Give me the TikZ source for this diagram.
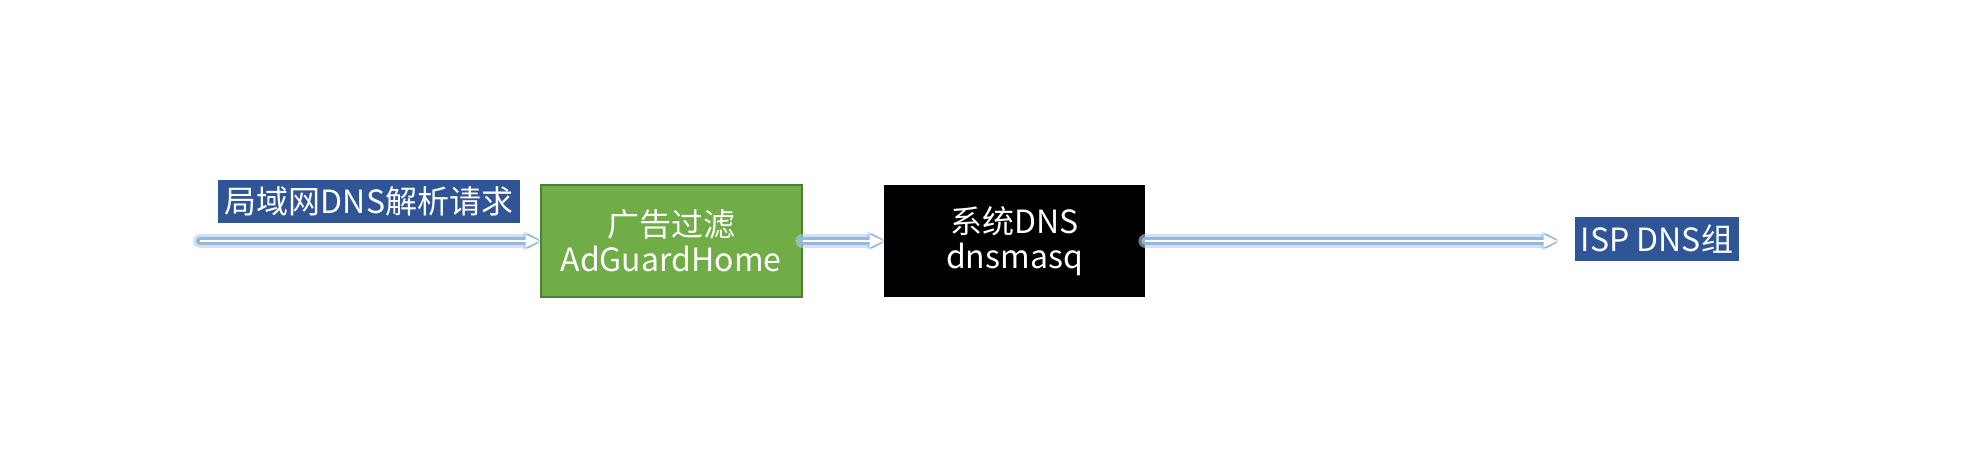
\documentclass[tikz,border=0pt]{standalone}
\usepackage{fontspec}
\setmainfont{Noto Sans CJK SC}
\usetikzlibrary{arrows.meta}
\definecolor{lblblue}{HTML}{2F5597}
\definecolor{boxgreen}{HTML}{70AD47}
\definecolor{boxgreenline}{HTML}{507E32}
\definecolor{glowout}{HTML}{B4CFEA}
\definecolor{glow}{HTML}{94B8DD}
\begin{document}
\begin{tikzpicture}[x=0.5pt,y=-0.5pt,
  every node/.style={font=\fontsize{16pt}{17.5pt}\selectfont, text=white, inner sep=0pt, align=center},
  label box/.style={fill=lblblue},
  proc box/.style={minimum width=130.5pt, minimum height=56pt},
  glowline/.style={draw=glowout, opacity=0.6, line width=7pt, line cap=round, line join=round,
     -{Triangle[length=10pt,width=10pt,round]}},
  glowcore/.style={draw=glow, line width=4pt, line cap=round, line join=round,
     -{Triangle[length=8.5pt,width=8pt,round]}},
  flowline/.style={draw=white, line width=1.3pt, -{Triangle[length=7pt,width=6pt]}}
]
\useasboundingbox (0,0) rectangle (1964,466);
\fill[white] (0,0) rectangle (1964,466);

\coordinate (src) at (200,241);
\node[label box, minimum width=151pt, minimum height=21.5pt] (lbl) at (369,201.5) {局域网DNS解析请求};
\node[proc box, fill=boxgreen, draw=boxgreenline, line width=1pt] (ag) at (671,241) {广告过滤\\AdGuardHome};
\node[proc box, fill=black] (dm) at (1014.5,241) {系统DNS\\dnsmasq};
\node[label box, minimum width=82pt, minimum height=22pt] (isp) at (1657,239) {ISP DNS组};

\foreach \st in {glowline,glowcore,flowline}{
  \draw[\st] (src) -- (ag.west);
  \draw[\st] (ag.east) -- (dm.west);
  \draw[\st, shorten >=8.5pt] (dm.east) -- (isp.west |- dm.east);
}
\end{tikzpicture}
\end{document}
